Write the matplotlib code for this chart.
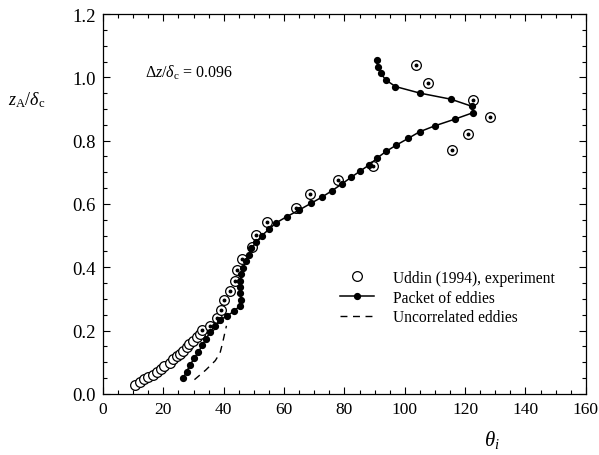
import numpy as np
import matplotlib
matplotlib.use("Agg")
import matplotlib.pyplot as plt
from matplotlib.ticker import MultipleLocator

# Packet of eddies (theta_i, z_A/delta_c)
packet_theta = [26.5, 27.7, 28.8, 30.2, 31.6, 32.9, 34.1, 35.5, 37.0, 38.9,
                41.2, 43.5, 45.3, 45.8, 45.5, 45.3, 45.4, 45.8, 46.5, 47.3,
                48.3, 49.2, 50.8, 52.6, 55.0, 57.3, 60.9, 65.0, 68.9, 72.6,
                75.9, 79.1, 82.2, 85.2, 88.3, 90.8, 93.8, 97.2, 101.1, 104.9,
                110.0, 116.6, 122.5, 122.4, 115.3, 105.1, 96.9, 93.7, 92.0,
                91.0, 90.7]
packet_z = [0.049, 0.070, 0.091, 0.112, 0.133, 0.153, 0.174, 0.195, 0.215,
            0.234, 0.247, 0.262, 0.278, 0.298, 0.318, 0.338, 0.358, 0.378,
            0.399, 0.420, 0.440, 0.460, 0.480, 0.500, 0.520, 0.540, 0.560,
            0.581, 0.602, 0.622, 0.642, 0.663, 0.684, 0.704, 0.724, 0.745,
            0.766, 0.786, 0.807, 0.828, 0.847, 0.868, 0.888, 0.908, 0.931,
            0.950, 0.971, 0.992, 1.013, 1.033, 1.055]

# Uddin (1994), experiment
exp_theta = [10.6, 12.3, 13.6, 15.0, 16.5, 17.8, 19.1, 20.2, 22.2, 23.3,
             24.4, 25.5, 26.6, 27.7, 28.6, 29.7, 31.1, 32.2, 32.9, 35.5,
             37.7, 39.0, 40.1, 42.1, 43.8, 44.5, 46.0, 49.5, 50.7, 54.3,
             64.0, 68.6, 77.8, 89.6, 115.5, 121.0, 128.1, 122.5, 107.7, 103.6]
exp_z = [0.028, 0.037, 0.047, 0.053, 0.060, 0.068, 0.079, 0.089, 0.098,
         0.110, 0.119, 0.126, 0.137, 0.147, 0.158, 0.168, 0.179, 0.189,
         0.202, 0.214, 0.239, 0.266, 0.297, 0.326, 0.358, 0.392, 0.426,
         0.463, 0.502, 0.542, 0.586, 0.631, 0.675, 0.721, 0.771, 0.822,
         0.874, 0.927, 0.982, 1.040]

# Uncorrelated eddies
uncorr_theta = [30.3, 34.0, 37.2, 38.8, 39.6, 40.3, 40.9]
uncorr_z = [0.045, 0.075, 0.105, 0.130, 0.160, 0.190, 0.215]

plt.rcParams['font.family'] = ['Liberation Serif', 'DejaVu Serif']
plt.rcParams['mathtext.fontset'] = 'custom'
plt.rcParams['mathtext.rm'] = 'Liberation Serif'
plt.rcParams['mathtext.it'] = 'Liberation Serif:italic'

fig = plt.figure(figsize=(5.99, 4.56), dpi=100)
ax = fig.add_axes([0.172, 0.134, 0.806, 0.833])

ax.plot(exp_theta, exp_z, linestyle='none', marker='o', markersize=7,
        markerfacecolor='white', markeredgecolor='k', markeredgewidth=0.9,
        label="Uddin (1994), experiment", zorder=2)
dot_theta = [t for t, z in zip(exp_theta, exp_z) if z > 0.2]
dot_z = [z for z in exp_z if z > 0.2]
ax.plot(dot_theta, dot_z, linestyle='none', marker='o', markersize=1.8,
        color='k', zorder=2)

ax.plot(packet_theta, packet_z, color='k', linewidth=1.1, marker='o',
        markersize=4.2, label="Packet of eddies", zorder=3)
ax.plot(uncorr_theta, uncorr_z, color='k', linewidth=1.0,
        linestyle=(0, (5, 4)), label="Uncorrelated eddies", zorder=3)

ax.set_xlim(0, 160)
ax.set_ylim(0.0, 1.2)
ax.xaxis.set_major_locator(MultipleLocator(20))
ax.xaxis.set_minor_locator(MultipleLocator(5))
ax.yaxis.set_major_locator(MultipleLocator(0.2))
ax.yaxis.set_minor_locator(MultipleLocator(0.05))
ax.yaxis.set_major_formatter(plt.FormatStrFormatter('%.1f'))
ax.tick_params(which='both', direction='in', top=True, right=True, width=0.8)
ax.tick_params(axis='x', labelsize=12.5)
ax.tick_params(axis='y', labelsize=13.5)
ax.tick_params(which='major', length=5, pad=5)
ax.tick_params(which='minor', length=3)
for s in ax.spines.values():
    s.set_linewidth(0.9)

ax.text(13.9, 1.017, r"$\Delta z/\delta_{\rm c}$ = 0.096", fontsize=11.5,
        ha='left', va='center')
fig.text(0.045, 0.78, r"$z_{\rm A}/\delta_{\rm c}$", fontsize=13,
         ha='center', va='center')
fig.text(0.822, 0.035, r"$\theta_i$", fontsize=15, ha='center',
         va='center')

ax.legend(loc='upper left', bbox_to_anchor=(0.49, 0.327), frameon=False,
          fontsize=11.2, handlelength=2.2, handletextpad=1.25,
          labelspacing=0.25, borderaxespad=0, borderpad=0)

fig.savefig("out.png", dpi=100)
